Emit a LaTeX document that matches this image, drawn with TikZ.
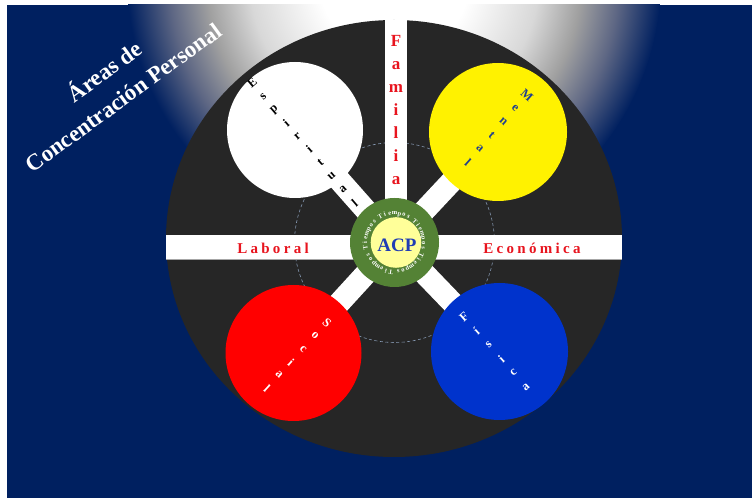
\documentclass[tikz,border=0pt]{standalone}
\usepackage{fontspec}
\setmainfont{Liberation Serif}
\newfontfamily\spacedfont[LetterSpace=22]{Liberation Serif}
\usetikzlibrary{calc}
\definecolor{navybg}{HTML}{002060}
\definecolor{disk}{HTML}{262626}
\definecolor{ringgreen}{HTML}{548235}
\definecolor{paleyel}{HTML}{FFFF99}
\definecolor{acpblue}{HTML}{1F3CB4}
\definecolor{lblred}{HTML}{E8141E}
\definecolor{mentalblue}{HTML}{1F3F8F}
\definecolor{fisblue}{HTML}{0033CC}
\definecolor{dashc}{HTML}{8497B0}
\definecolor{lgray}{HTML}{D8D8D8}
\definecolor{mgray}{HTML}{A0A0A0}
\definecolor{dgray}{HTML}{5E6784}
\pgfdeclareradialshading{spot}{\pgfpoint{0bp}{0bp}}{color(0bp)=(white); color(7bp)=(white); color(13.5bp)=(lgray); color(17.5bp)=(mgray); color(21bp)=(dgray); color(25bp)=(navybg); color(50bp)=(navybg)}
\begin{document}
\begin{tikzpicture}[x=1pt,y=1pt,
  disc/.style={circle,inner sep=0pt,outer sep=0pt},
  barline/.style={white,line width=22pt},
  stackletter/.style={font=\fontsize{12.5}{12.5}\selectfont\bfseries,inner sep=0pt,anchor=center},
  famletter/.style={font=\fontsize{17}{17}\selectfont\bfseries,text=lblred,inner sep=0pt,anchor=base},
  barlabel/.style={font=\fontsize{15}{15}\selectfont\spacedfont\bfseries,text=lblred,inner sep=0pt,anchor=base},
  tiempo/.style={font=\fontsize{6.5}{6.5}\selectfont\bfseries,text=white,inner sep=0pt,anchor=base},
  titletext/.style={font=\fontsize{23}{32}\selectfont\bfseries,text=white,align=center,inner sep=0pt}]
\useasboundingbox (0,0) rectangle (752,498);
\fill[white] (0,0) rectangle (752,498);
\fill[navybg] (7,0) rectangle (752,493);
\begin{scope}
  \clip (7,0) rectangle (752,493);
  \shade[shading=spot] (394,518) circle (267pt);
\end{scope}
% dark disk
\fill[disk] (394,259.5) ellipse [x radius=228pt, y radius=218.5pt];
% centre and circle positions
\coordinate (c) at (394.5,255.5);
\coordinate (pe) at (295,368);
\coordinate (pm) at (498,366);
\coordinate (ps) at (293.5,145);
\coordinate (pf) at (499.5,146.5);
\coordinate (labl) at (166,251);
\coordinate (ecor) at (622,251);
\draw[dashc,line width=0.6pt,dash pattern=on 3pt off 2.5pt] (c) circle (100pt);
% bars
\draw[barline] (c) -- (pe);
\draw[barline] (c) -- (pm);
\draw[barline] (c) -- (ps);
\draw[barline] (c) -- (pf);
\fill[white] (385,258) rectangle (407,478);
\draw[gray!70,line width=0.8pt] (166,238.6) -- (622,238.6);
\draw[white,line width=24pt] (labl) -- (ecor);
% coloured circles
\node[disc,fill=white,minimum size=136pt] (esp) at (pe) {};
\node[disc,fill=yellow,minimum size=138pt] (men) at (pm) {};
\node[disc,fill=red,minimum size=136pt] (soc) at (ps) {};
\node[disc,fill=fisblue,minimum size=137pt] (fis) at (pf) {};
% centre
\node[disc,fill=ringgreen,minimum size=89pt] (ring) at (c) {};
\node[disc,fill=paleyel,minimum size=50.6pt] (acpdisc) at (396,255.5) {};
\node[font=\fontsize{19}{19}\selectfont\bfseries,text=acpblue,inner sep=0pt] (acp) at (397,252.5) {ACP};
\foreach \w in {0,...,4}{
  \foreach \l [count=\k from 0] in {T,i,e,m,p,o,s}{
    \pgfmathsetmacro{\ang}{90-72*\w+(3-\k)*9.5}
    \node[tiempo,rotate=\ang-90] (t\w\k) at ([shift={(\ang:27.5pt)}]c) {\l};
  }
}
% Familia
\foreach \l/\yb [count=\i] in {F/451,a/428,m/405,i/382,l/359,i/336,a/313}
  \node[famletter] (fam\i) at (396,\yb) {\l};
% Laboral / Economica
\node[barlabel] (lab) at (273,244.7) {Laboral};
\node[barlabel] (eco) at (532,244.7) {Económica};
% diagonal labels
\foreach \l [count=\i from 0] in {E,s,p,i,r,i,t,u,a,l}
  \node[stackletter,text=black,rotate=40.6] (es\i) at ([shift={(\i*11.4,-\i*13.3)}]252,415) {\l};
\foreach \l [count=\i from 0] in {M,e,n,t,a,l}
  \node[stackletter,text=mentalblue,rotate=-41.4] (me\i) at ([shift={(-\i*11.8,-\i*13.4)}]527,403) {\l};
\foreach \l [count=\i from 0] in {S,o,c,i,a,l}
  \node[stackletter,text=white,rotate=-42.7] (so\i) at ([shift={(-\i*12,-\i*13)}]327,175) {\l};
\foreach \l [count=\i from 0] in {F,í,s,i,c,a}
  \node[stackletter,text=white,rotate=41.5] (fi\i) at ([shift={(\i*12.4,-\i*14)}]464,181) {\l};
% title
\node[titletext,rotate=36] (title) at (113,415) {Áreas de\\Concentración Personal};
\end{tikzpicture}
\end{document}
